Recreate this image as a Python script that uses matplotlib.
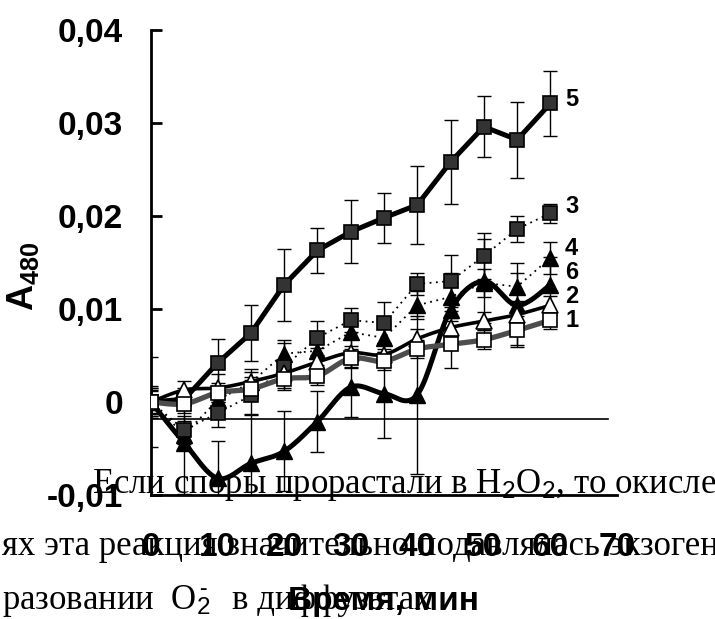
import numpy as np
import matplotlib
matplotlib.use("Agg")
import matplotlib.pyplot as plt

plt.rcParams['mathtext.fontset'] = 'custom'
plt.rcParams['mathtext.rm'] = 'Liberation Sans'
plt.rcParams['mathtext.bf'] = 'Liberation Sans:bold'
plt.rcParams['mathtext.it'] = 'Liberation Sans:italic'

# ---------------- data ----------------
time_min = [0, 5, 10, 15, 20, 25, 30, 35, 40, 45, 50, 55, 60]

s1 = [0.0, -0.0002, 0.0010, 0.0014, 0.0025, 0.0028, 0.0047, 0.0044, 0.0057, 0.0062, 0.0067, 0.0077, 0.0088]
s1_err = [0.0012, 0.0010, 0.0010, 0.0010, 0.0010, 0.0010, 0.0010, 0.0010, 0.0010, 0.0025, 0.0010, 0.0016, 0.0010]

s2 = [0.0, 0.0013, 0.0015, 0.0022, 0.0031, 0.0043, 0.0053, 0.0051, 0.0068, 0.0080, 0.0087, 0.0094, 0.0104]
s2_err = [0.0015, 0.0010, 0.0015, 0.0010, 0.0010, 0.0015, 0.0015, 0.0012, 0.0010, 0.0010, 0.0010, 0.0010, 0.0010]

s3 = [0.0, -0.0030, -0.0012, 0.0007, 0.0038, 0.0069, 0.0088, 0.0085, 0.0127, 0.0130, 0.0157, 0.0186, 0.0203]
s3_err = [0.0013, 0.0015, 0.0015, 0.0020, 0.0025, 0.0018, 0.0013, 0.0022, 0.0012, 0.0028, 0.0025, 0.0014, 0.0010]

s4 = [0.0, -0.0035, 0.0002, 0.0021, 0.0052, 0.0055, 0.0075, 0.0069, 0.0104, 0.0113, 0.0128, 0.0124, 0.0155]
s4_err = [0.0017, 0.0015, 0.0015, 0.0015, 0.0015, 0.0015, 0.0015, 0.0015, 0.0015, 0.0015, 0.0015, 0.0015, 0.0017]

s5 = [0.0, 0.0003, 0.0042, 0.0074, 0.0126, 0.0163, 0.0183, 0.0198, 0.0212, 0.0258, 0.0296, 0.0282, 0.0321]
s5_err = [0.0015, 0.0012, 0.0026, 0.0030, 0.0039, 0.0024, 0.0034, 0.0027, 0.0042, 0.0045, 0.0033, 0.0041, 0.0035]

s6 = [0.0, -0.0044, -0.0082, -0.0066, -0.0053, -0.0021, 0.0016, 0.0009, 0.0008, 0.0099, 0.0130, 0.0104, 0.0126]
s6_err = [0.0048, 0.0055, 0.0040, 0.0052, 0.0043, 0.0033, 0.0032, 0.0048, 0.0085, 0.0040, 0.0045, 0.0045, 0.0030]

series_labels = ['1', '2', '3', '4', '5', '6']
label_y = [0.0088, 0.0113, 0.0210, 0.0165, 0.0325, 0.0139]

ytick_values = [-0.01, 0.0, 0.01, 0.02, 0.03, 0.04]
ytick_labels = ['-0,01', '0', '0,01', '0,02', '0,03', '0,04']
xtick_values = [0, 10, 20, 30, 40, 50, 60, 70]
xtick_labels = ['0', '10', '20', '30', '40', '50', '60', '70']

ref_line_y = -0.0018
ref_line_x = [0, 68.6]

doc_line1 = "Если споры прорастали в H$_2$O$_2$, то окисление"
doc_line2 = "ях эта реакция значительно подавлялась экзогенной"
doc_line3a = "разовании  O$_2$"
doc_line3b = "в диффузатах"


def smooth(x, y, n=20):
    x = np.asarray(x, float)
    y = np.asarray(y, float)
    P = np.column_stack([x, y])
    P = np.vstack([P[0], P, P[-1]])
    out = []
    for i in range(1, len(P) - 2):
        p0, p1, p2, p3 = P[i - 1], P[i], P[i + 1], P[i + 2]
        t = np.linspace(0, 1, n, endpoint=False)[:, None]
        pt = 0.5 * ((2 * p1) + (-p0 + p2) * t + (2 * p0 - 5 * p1 + 4 * p2 - p3) * t ** 2
                    + (-p0 + 3 * p1 - 3 * p2 + p3) * t ** 3)
        out.append(pt)
    out.append(P[-2][None, :])
    out = np.vstack(out)
    return out[:, 0], out[:, 1]


W, H = 715, 619
fig = plt.figure(figsize=(W / 100, H / 100), dpi=100)
ax = fig.add_axes([151 / W, 1 - 495 / H, (617 - 151) / W, (495 - 30) / H])
ax.set_xlim(0, 70)
ax.set_ylim(-0.01, 0.04)

for s in ['top', 'right']:
    ax.spines[s].set_visible(False)
for s in ['left', 'bottom']:
    ax.spines[s].set_linewidth(2.0)

ax.plot(ref_line_x, [ref_line_y, ref_line_y], color='black', lw=1.2, zorder=1)

eb_kw = dict(fmt='none', ecolor='black', elinewidth=1.0, capsize=5, capthick=1.0, zorder=2)
for yv, ev in [(s6, s6_err), (s4, s4_err), (s3, s3_err), (s5, s5_err), (s2, s2_err), (s1, s1_err)]:
    ax.errorbar(time_min, yv, yerr=ev, **eb_kw)

dark = '#333333'
sx, sy = smooth(time_min, s6)
ax.plot(sx, sy, color='black', lw=3.6, zorder=3, solid_capstyle='round')
ax.plot(time_min, s6, ls='none', marker='^', ms=11, mfc='black', mec='black', zorder=4)
ax.plot(time_min, s4, color='black', lw=1.3, ls=(0, (1, 2.5)), marker='^', ms=11,
        mfc='black', mec='black', zorder=5)
ax.plot(time_min, s3, color='black', lw=1.3, ls=(0, (1, 2.5)), marker='s', ms=10.5,
        mfc=dark, mec='black', mew=1.2, zorder=5)
ax.plot(time_min, s5, color='black', lw=3.6, marker='s', ms=10.5, mfc=dark, mec='black',
        mew=1.2, zorder=6)
sx, sy = smooth(time_min, s2)
ax.plot(sx, sy, color='black', lw=2.6, zorder=7)
ax.plot(time_min, s2, ls='none', marker='^', ms=11, mfc='white', mec='black', mew=1.2, zorder=7)
sx, sy = smooth(time_min, s1)
ax.plot(sx, sy, color='#4d4d4d', lw=3.8, zorder=8)
ax.plot(time_min, s1, ls='none', marker='s', ms=10.5, mfc='white', mec='black', mew=1.2, zorder=9)

for lab, ly in zip(series_labels, label_y):
    ax.text(62.2, ly, lab, fontsize=17, fontweight='bold', family='Liberation Sans',
            ha='left', va='center', zorder=10)

ax.set_yticks(ytick_values)
ax.set_yticklabels(ytick_labels, fontsize=24, fontweight='bold', family='Liberation Sans')
ax.tick_params(axis='y', direction='in', length=8, width=2, pad=20)
ax.set_xticks(xtick_values)
ax.set_xticklabels(xtick_labels, fontsize=24, fontweight='bold', family='Liberation Sans')
ax.tick_params(axis='x', length=0, pad=27)

ax.set_xlabel('Время, мин', fontsize=24, fontweight='bold', family='Liberation Sans', labelpad=16)
ax.set_ylabel(r'$\mathbf{A}_{\mathbf{480}}$', fontsize=26)
ax.yaxis.set_label_coords(-0.235, 0.47)

# overlaid document text (scanned page)
fig.text(92 / W, 1 - 493 / H, doc_line1, fontsize=25, family='Liberation Serif',
         ha='left', va='baseline', zorder=0)
fig.text(2 / W, 1 - 555 / H, doc_line2, fontsize=25, family='Liberation Serif',
         ha='left', va='baseline', zorder=0)
fig.text(2 / W, 1 - 609 / H, doc_line3a, fontsize=25, family='Liberation Serif',
         ha='left', va='baseline', zorder=0)
fig.text(199 / W, 1 - 594 / H, '-', fontsize=16, family='Liberation Serif',
         ha='left', va='baseline', zorder=0)
fig.text(232 / W, 1 - 609 / H, doc_line3b, fontsize=25, family='Liberation Serif',
         ha='left', va='baseline', zorder=0)

fig.savefig('out.png', dpi=100)
